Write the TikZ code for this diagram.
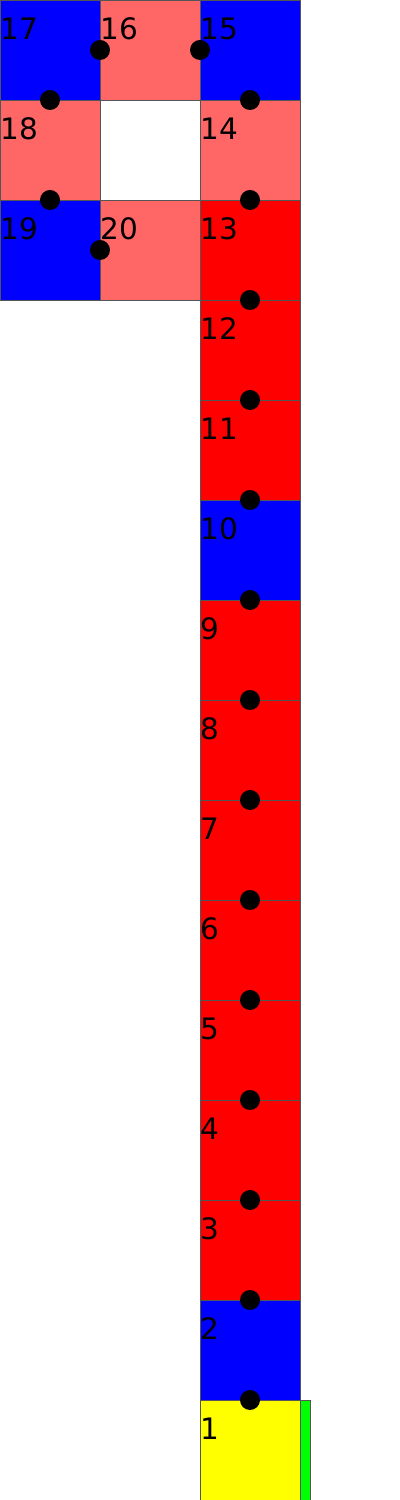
\documentclass[tikz,border=0pt]{standalone}
\usepackage{fontspec}
\setmainfont{DejaVu Sans}
\usepackage{tikz}
\usepackage{xcolor}
\usetikzlibrary{positioning,calc}
\definecolor{TileBlue}{HTML}{0000FF}
\definecolor{TileRed}{HTML}{FF0000}
\definecolor{TilePink}{HTML}{FF6666}
\definecolor{TileYellow}{HTML}{FFFF00}
\definecolor{TileGreen}{HTML}{00FF00}
\definecolor{TileEdge}{HTML}{555555}
\tikzset{
    % Base tile style
    basetile/.style={
        draw=TileEdge,
        line width=0.5pt,
        minimum width=2cm,
        minimum height=2cm,
        inner sep=0pt,
        outer sep=0pt
    },
    % Colour variants
    bluetile/.style={basetile, fill=TileBlue},
    redtile/.style={basetile, fill=TileRed},
    pinktile/.style={basetile, fill=TilePink},
    starttile/.style={basetile, fill=TileYellow},
    % Side strip
    stripnode/.style={
        draw=TileEdge,
        fill=TileGreen,
        line width=0.5pt,
        minimum width=0.2cm,
        minimum height=2cm,
        inner sep=0pt,
        outer sep=0pt
    },
    % Tile number
    numlabel/.style={
        anchor=base west,
        inner sep=0pt,
        font=\fontsize{16.8pt}{20pt}\selectfont
    },
    % Joint dot
    jointdot/.style={
        circle,
        fill=black,
        minimum size=0.4cm,
        inner sep=0pt
    }
}
\begin{document}
\begin{tikzpicture}
        \useasboundingbox (0,0) rectangle (8,30);

        % Column of tiles
        \node[starttile] (t1) at (5,1) {};
        \node[bluetile] (t2) at (5,3) {};
        \node[redtile] (t3) at (5,5) {};
        \node[redtile] (t4) at (5,7) {};
        \node[redtile] (t5) at (5,9) {};
        \node[redtile] (t6) at (5,11) {};
        \node[redtile] (t7) at (5,13) {};
        \node[redtile] (t8) at (5,15) {};
        \node[redtile] (t9) at (5,17) {};
        \node[bluetile] (t10) at (5,19) {};
        \node[redtile] (t11) at (5,21) {};
        \node[redtile] (t12) at (5,23) {};
        \node[redtile] (t13) at (5,25) {};
        \node[pinktile] (t14) at (5,27) {};
        \node[bluetile] (t15) at (5,29) {};

        % Top loop
        \node[pinktile] (t16) at (3,29) {};
        \node[bluetile] (t17) at (1,29) {};
        \node[pinktile] (t18) at (1,27) {};
        \node[bluetile] (t19) at (1,25) {};
        \node[pinktile] (t20) at (3,25) {};

        % Green strip
        \node[stripnode, right=0pt of t1] (strip) {};

        % Numbers
        \foreach \i in {1,...,20}
            \node[numlabel] (n\i) at ($(t\i.north west)+(0,-0.8)$) {\i};

        % Joints
        \foreach \a/\b in {1/2,2/3,3/4,4/5,5/6,6/7,7/8,8/9,9/10,10/11,
                           11/12,12/13,13/14,14/15,15/16,16/17,17/18,18/19,19/20}
            \node[jointdot] (d\a) at ($(t\a)!0.5!(t\b)$) {};
    \end{tikzpicture}
\end{document}
